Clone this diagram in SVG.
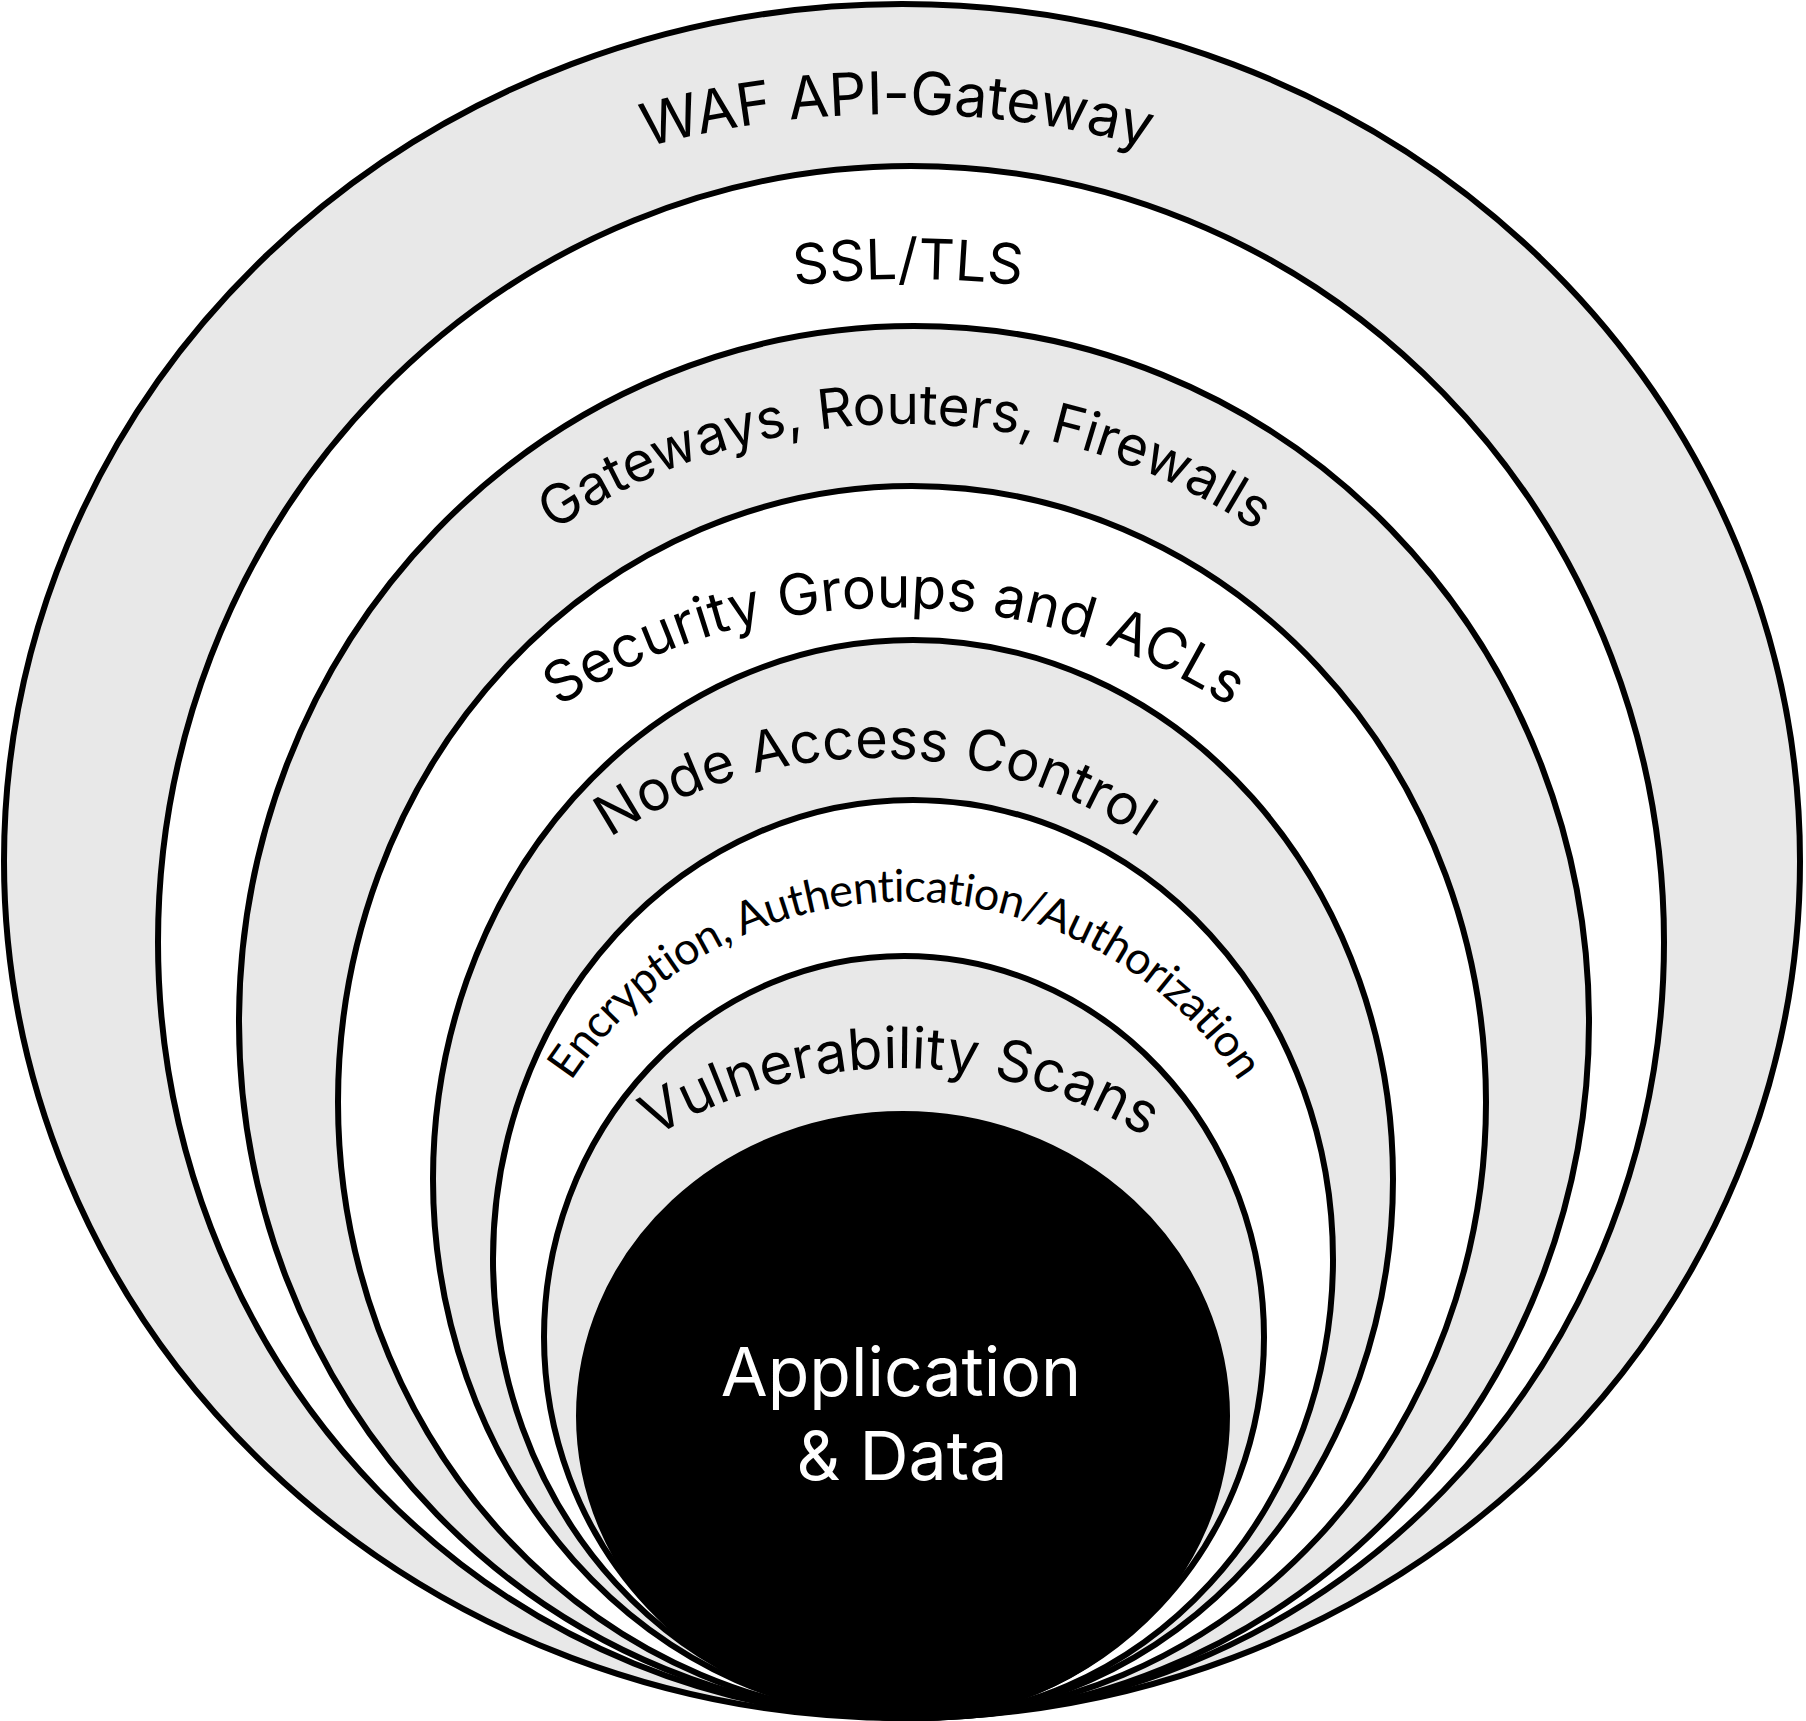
<svg xmlns="http://www.w3.org/2000/svg" width="1806" height="1721" viewBox="0 0 1806 1721">
<style>
.ring{stroke:#000;stroke-width:6}
.gray{fill:#e8e8e8}
.white{fill:#ffffff}
.core{fill:#000}
.lbl{font-family:Inter,"Open Sans","Liberation Sans",sans-serif;fill:#000;text-anchor:middle}
.enc{font-family:Lato,"Open Sans","Liberation Sans",sans-serif;fill:#000;text-anchor:middle}
.app{font-family:Inter,"Open Sans","Liberation Sans",sans-serif;fill:#fff;text-anchor:middle;font-size:68px}
</style>
<defs>
<path id="p1" d="M413.5,243.6 A967,967 0 0 1 1380.5,243.6"/>
<path id="p2" d="M566,339.3 A1000,1000 0 0 1 1250,339.3"/>
<path id="p3" d="M359.4,739 A630,630 0 0 1 1450.6,739"/>
<path id="p4" d="M361.9,915 A615,615 0 0 1 1427.1,915"/>
<path id="p5" d="M459.3,998 A480,480 0 0 1 1290.7,998"/>
<path id="p6" d="M511,1232.5 A400,400 0 0 1 1299,1232.5"/>
<path id="p7" d="M493,1303 A470,470 0 0 1 1307,1303"/>
</defs>
<g id="layer-waf">
<ellipse class="ring gray" cx="902" cy="861" rx="898" ry="857"/>
<text class="lbl" font-size="59" letter-spacing="-0.3"><textPath href="#p1" startOffset="50%">WAF API-Gateway</textPath></text>
</g>
<g id="layer-ssl">
<ellipse class="ring white" cx="911" cy="942" rx="753" ry="776"/>
<text class="lbl" font-size="56"><textPath href="#p2" startOffset="50%">SSL/TLS</textPath></text>
</g>
<g id="layer-gateways">
<ellipse class="ring gray" cx="914" cy="1022" rx="675" ry="696"/>
<text class="lbl" font-size="55"><textPath href="#p3" startOffset="50%">Gateways, Routers, Firewalls</textPath></text>
</g>
<g id="layer-security">
<ellipse class="ring white" cx="912" cy="1102" rx="574" ry="616"/>
<text class="lbl" font-size="57"><textPath href="#p4" startOffset="50%">Security Groups and ACLs</textPath></text>
</g>
<g id="layer-node">
<ellipse class="ring gray" cx="913" cy="1179" rx="480" ry="539"/>
<text class="lbl" font-size="56"><textPath href="#p5" startOffset="50%">Node Access Control</textPath></text>
</g>
<g id="layer-encryption">
<ellipse class="ring white" cx="913" cy="1259" rx="420" ry="459"/>
<text class="enc" font-size="45" letter-spacing="-0.6"><textPath href="#p6" startOffset="50%">Encryption, Authentication/Authorization</textPath></text>
</g>
<g id="layer-vulnerability">
<ellipse class="ring gray" cx="904" cy="1337" rx="360" ry="381"/>
<text class="lbl" font-size="57"><textPath href="#p7" startOffset="50%">Vulnerability Scans</textPath></text>
</g>
<g id="core">
<ellipse class="ring core" cx="903" cy="1416" rx="324" ry="302"/>
<text class="app" x="901" y="1396">Application</text>
<text class="app" x="902" y="1480">&amp; Data</text>
</g>
</svg>
